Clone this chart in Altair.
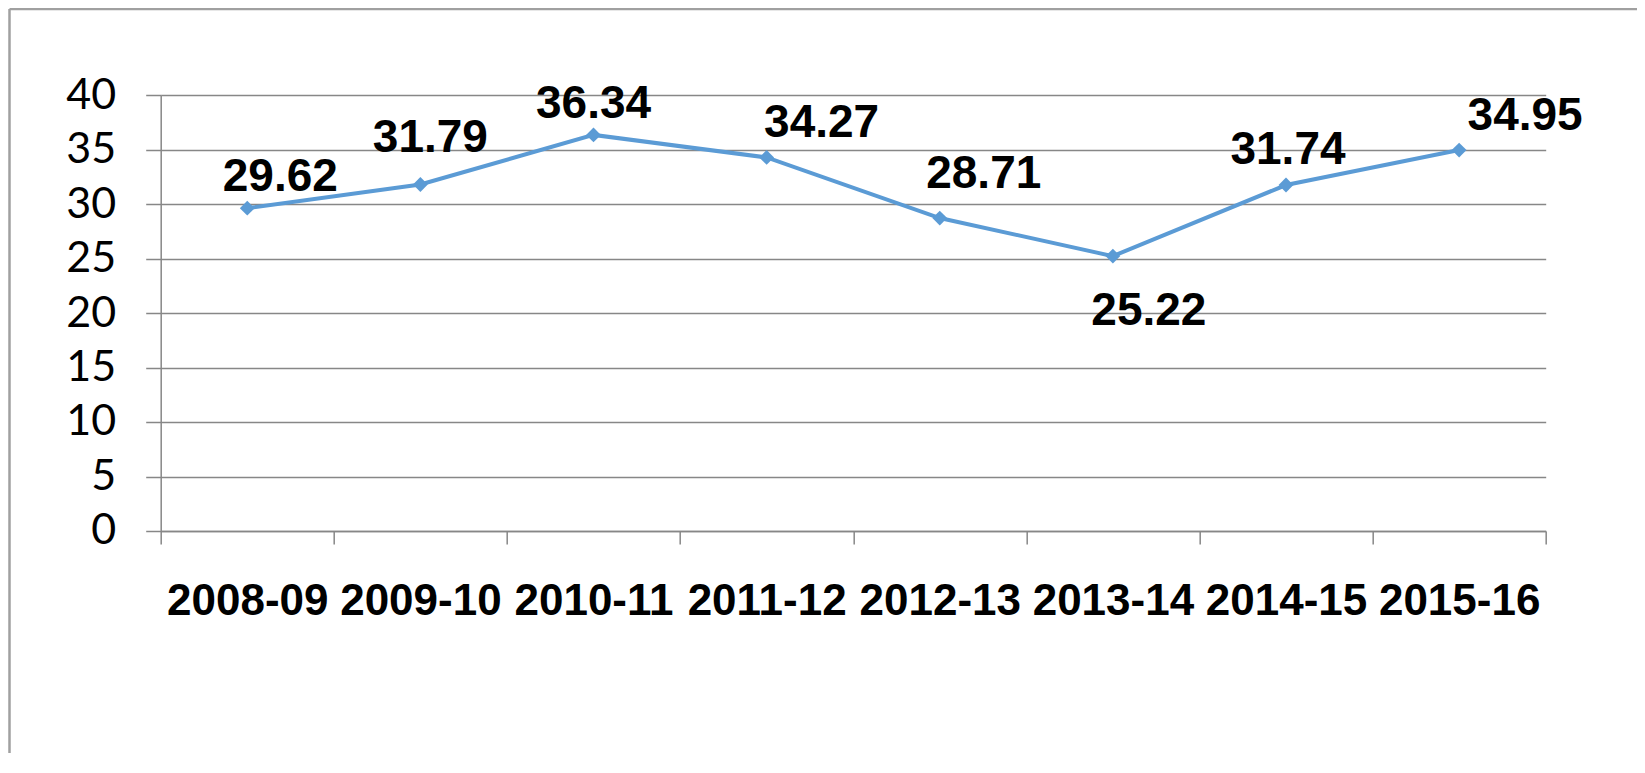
import altair as alt
import pandas as pd

# ---- data ----
years = ["2008-09", "2009-10", "2010-11", "2011-12", "2012-13", "2013-14", "2014-15", "2015-16"]
values = [29.62, 31.79, 36.34, 34.27, 28.71, 25.22, 31.74, 34.95]
y_ticks = [0, 5, 10, 15, 20, 25, 30, 35, 40]

# label placement (pixel nudges, style only)
label_dx = [33, 10, 0, 55, 44, 36, 2, 66]
label_dy = [-31, -46, -31, -34, -44, 55, -35, -34]

df = pd.DataFrame({"year": years, "value": values})

W, H = 1385, 436
PAD_L, PAD_T, PAD_R, PAD_B = 152.7, 87, 91, 222

GRID = "#878787"
LINE = "#5B9BD5"

x_enc = alt.X(
    "year:N",
    sort=years,
    scale=alt.Scale(type="band", paddingInner=0, paddingOuter=0),
    axis=alt.Axis(
        title=None,
        labelAngle=0,
        labelFont="Liberation Sans",
        labelFontWeight="bold",
        labelFontSize=44,
        labelColor="black",
        labelPadding=36,
        labelOverlap=False,
        tickBand="extent",
        tickSize=13,
        tickColor=GRID,
        tickWidth=1.5,
        domainColor=GRID,
        domainWidth=1.5,
        grid=False,
    ),
)
y_enc = alt.Y(
    "value:Q",
    scale=alt.Scale(domain=[0, 40], nice=False, zero=True),
    axis=alt.Axis(
        title=None,
        values=y_ticks,
        labelFont="Lato",
        labelFontSize=43,
        labelColor="black",
        labelPadding=30,
        tickSize=15,
        tickColor=GRID,
        tickWidth=1.5,
        domainColor=GRID,
        domainWidth=1.5,
        grid=True,
        gridColor=GRID,
        gridWidth=1.5,
    ),
)

base = alt.Chart(df).encode(x=x_enc, y=y_enc)

line = base.mark_line(color=LINE, strokeWidth=4)
pts = base.mark_point(shape="diamond", filled=True, size=220, color=LINE, opacity=1)

labels = []
for i, yr in enumerate(years):
    labels.append(
        base.transform_filter(alt.datum.year == yr)
        .mark_text(
            dx=label_dx[i],
            dy=label_dy[i],
            align="center",
            baseline="middle",
            font="Liberation Sans",
            fontWeight="bold",
            fontSize=46,
            color="black",
        )
        .encode(text=alt.Text("value:Q", format=".2f"))
    )

one = pd.DataFrame({"k": [0]})
frame_left = alt.Chart(one).mark_rule(color="#a0a0a0", strokeWidth=2.5).encode(
    x=alt.value(-151.2), y=alt.value(-86), y2=alt.value(H + PAD_B + 10)
)
frame_top = alt.Chart(one).mark_rule(color="#a0a0a0", strokeWidth=2.5).encode(
    y=alt.value(-86), x=alt.value(-151.2), x2=alt.value(W + PAD_R + 10)
)

chart = (
    alt.layer(frame_left, frame_top, line, pts, *labels)
    .properties(
        width=W,
        height=H,
        padding={"left": PAD_L, "top": PAD_T, "right": PAD_R, "bottom": PAD_B},
        autosize=alt.AutoSizeParams(type="none"),
        background="white",
    )
    .configure_view(stroke=None)
)

chart.save("out.html", embed_options={"renderer": "svg", "actions": False})
